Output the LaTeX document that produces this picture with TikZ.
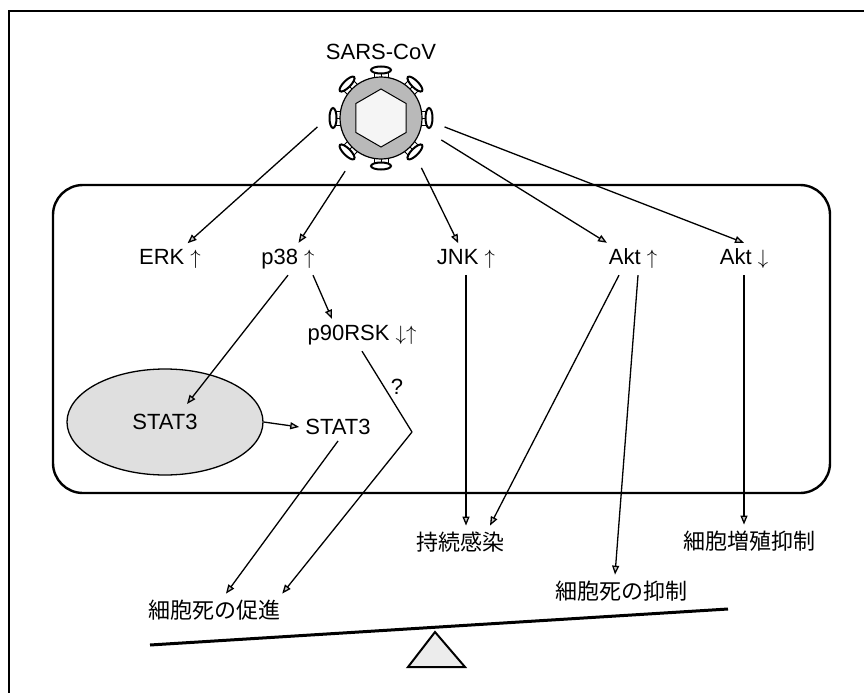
\documentclass[tikz,border=0pt]{standalone}
\usepackage{fontspec}
\setmainfont{Liberation Sans}
\newfontfamily\jp{Noto Sans CJK JP}
\usetikzlibrary{arrows.meta,shapes.geometric}
\newcommand\upar{{\fontsize{20}{20}\selectfont$\uparrow$}}
\newcommand\dnar{{\fontsize{20}{20}\selectfont$\downarrow$}}

\begin{document}
\begin{tikzpicture}[x=1pt,y=-1pt,
every node/.style={anchor=center,
inner sep=6pt,
font=\fontsize{22}{26}\selectfont
},
jp/.style={%
font=\jp\fontsize{22}{26}\selectfont
},
link/.style={%
line width=1.3pt,
-{Triangle[length=9pt,width=7pt,fill=gray!45]}
}]
\useasboundingbox(0,0)rectangle(864,693);
\draw[line width=1.2pt](864,11)--(9,11)--(9,693);
% cell membrane
\draw[rounded corners=30pt,line width=2.4pt](53,185)rectangle(830,493);
% virus particle
\begin{scope}[shift={(381,118)}]
\foreach \a in {0,45,...,315}{
\begin{scope}[rotate=\a]
\draw[line width=0.9pt](38,-7)--(47,-7)(38,0)--(47,0)(38,7)--(47,7);
\draw[line width=2pt,fill=white](48,0)ellipse[x radius=3.5,y radius=10];
\end{scope}}
\draw[line width=1.2pt,fill=gray!55](0,0)circle[radius=41];
\draw[line width=1pt,fill=gray!8](90:29)--(150:29)--(210:29)--(270:29)--(330:29)--(30:29)--cycle;
\end{scope}
\node[circle,minimum size=128pt]at(381,118)(cov){};
\node[]at(381,52)(sars){SARS-CoV};
\node[]at(170,259)(erk){ERK \upar};
\node[]at(288,259)(p38){p38 \upar};
\node[]at(466,259)(jnk){JNK \upar};
\node[]at(633,259)(aktu){Akt \upar};
\node[]at(744,259)(aktd){Akt \dnar};
\node[]at(362,335)(p90){p90RSK \dnar\upar};
\node[]at(397,387)(q){?};
\node[ellipse,draw,line width=1.3pt,fill=gray!25,minimum width=196pt,minimum height=106pt]at(165,422)(nuc){STAT3};
\node[]at(338,427)(stat){STAT3};
\node[jp]at(460,542)(per){持続感染};
\node[jp]at(621,591)(inh){細胞死の抑制};
\node[jp]at(749,541)(grw){細胞増殖抑制};
\node[jp]at(214,610)(pro){細胞死の促進};
\coordinate(bend)at(412,432);
% balance
\draw[line width=3pt](150,645)--(728,609);
\draw[line width=2pt,fill=gray!15](435,632)--(408,667)--(465,667)--cycle;
\draw[link](cov.188)--(erk);
\draw[link](cov.236)--(p38);
\draw[link](cov.-51)--(jnk);
\draw[link](cov.-20)--(aktu);
\draw[link](cov.-8)--(aktd.north);
\draw[link]([xshift=25pt]p38.south)--([xshift=-30pt]p90.north);
\draw[link](p38.south)--([shift={(22pt,18pt)}]nuc.center);
\draw[link](nuc.east)--(stat.west);
\draw[link](stat.south)--(pro);
\draw[line width=1.3pt](p90.south)--(bend);
\draw[link](bend)--([xshift=-4pt]pro.north east);
\draw[link](jnk.south)--(jnk.south|-per.north);
\draw[link]([xshift=-14pt]aktu.south)--([xshift=30pt]per.north);
\draw[link]([xshift=5pt]aktu.south)--([xshift=-6pt]inh.north);
\draw[link](aktd.south)--(aktd.south|-grw.north);
\end{tikzpicture}
\end{document}
